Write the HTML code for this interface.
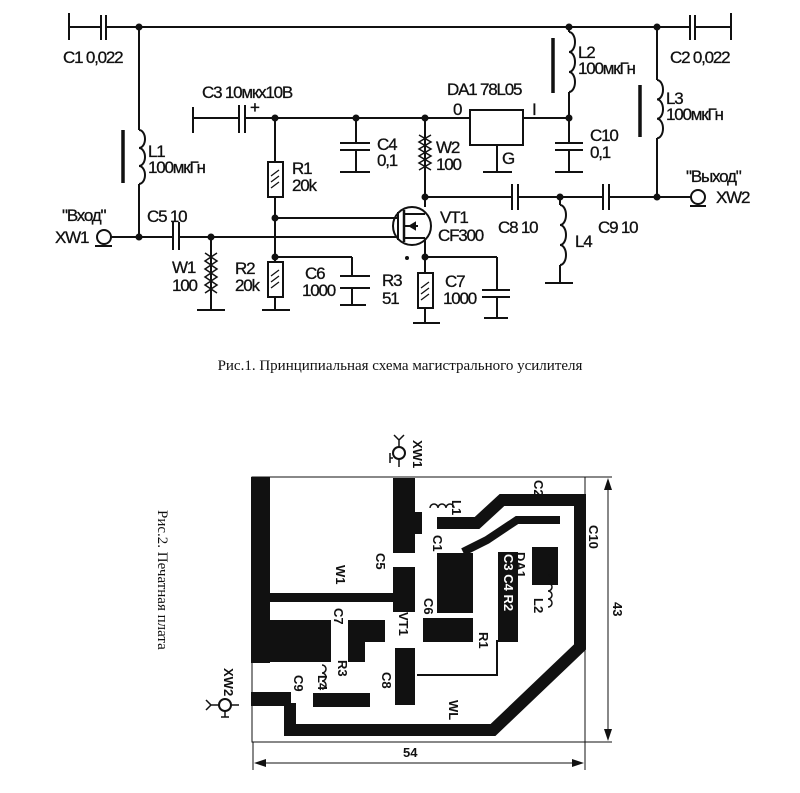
<!DOCTYPE html>
<html><head><meta charset="utf-8"><style>
html,body{margin:0;padding:0;background:#fff}
svg{display:block}
.t{font-family:"Liberation Sans","DejaVu Sans",sans-serif;font-size:17px;fill:#111;letter-spacing:-1.2px;stroke:#111;stroke-width:0.3px}
.s{font-family:"Liberation Sans",sans-serif;font-size:13px;fill:#111;font-weight:bold}
.cap{font-family:"Liberation Serif","DejaVu Serif",serif;font-size:15px;fill:#111}
</style></head><body>
<svg width="800" height="793" viewBox="0 0 800 793" xmlns="http://www.w3.org/2000/svg">
<g stroke="#111" stroke-width="2" fill="none">
<line x1="69" y1="13" x2="69" y2="40"/><line x1="69" y1="27" x2="101" y2="27"/>
<line x1="101" y1="15" x2="101" y2="40"/><line x1="106" y1="15" x2="106" y2="40"/>
<line x1="106" y1="27" x2="690" y2="27"/>
<line x1="690" y1="15" x2="690" y2="40"/><line x1="695" y1="15" x2="695" y2="40"/>
<line x1="695" y1="27" x2="731" y2="27"/><line x1="731" y1="13" x2="731" y2="40"/>
<line x1="139" y1="27" x2="139" y2="130"/>
<path d="M139 130 a6 9 0 0 1 0 18 a6 9 0 0 1 0 18 a6 9 0 0 1 0 18"/>
<line x1="139" y1="184" x2="139" y2="237"/>
<line x1="123" y1="130" x2="123" y2="183" stroke-width="3.5"/>
<circle cx="104" cy="237" r="7"/><line x1="95" y1="246" x2="112" y2="246"/>
<line x1="111" y1="237" x2="173" y2="237"/>
<line x1="173" y1="222" x2="173" y2="250"/><line x1="179" y1="222" x2="179" y2="250"/>
<line x1="179" y1="237" x2="398" y2="237"/>
<line x1="211" y1="237" x2="211" y2="310"/>
<path d="M205 253 l12 8 l-12 8 l12 8 l-12 8 l12 8 M217 253 l-12 8 l12 8 l-12 8 l12 8 l-12 8" stroke-width="1.5"/>
<line x1="197" y1="310" x2="225" y2="310"/>
<line x1="193" y1="107" x2="193" y2="133"/><line x1="193" y1="118" x2="239" y2="118"/>
<line x1="239" y1="105" x2="239" y2="133"/><line x1="245" y1="105" x2="245" y2="133"/>
<line x1="245" y1="118" x2="470" y2="118"/>
<line x1="275" y1="118" x2="275" y2="162"/>
<rect x="268" y="162" width="15" height="35"/>
<line x1="275" y1="197" x2="275" y2="262"/>
<rect x="268" y="262" width="15" height="35"/>
<line x1="275" y1="297" x2="275" y2="310"/><line x1="262" y1="310" x2="290" y2="310"/>
<path d="M271 176 l8 -6 M271 182 l8 -6 M271 188 l8 -6 M271 276 l8 -6 M271 282 l8 -6 M271 288 l8 -6" stroke-width="1.3"/>
<line x1="275" y1="218" x2="398" y2="218"/>
<line x1="275" y1="257" x2="352" y2="257"/><line x1="352" y1="257" x2="352" y2="276"/>
<line x1="340" y1="276" x2="370" y2="276"/><line x1="340" y1="288" x2="370" y2="288"/>
<line x1="352" y1="288" x2="352" y2="305"/><line x1="340" y1="305" x2="366" y2="305"/>
<line x1="356" y1="118" x2="356" y2="143"/>
<line x1="340" y1="143" x2="370" y2="143"/><line x1="340" y1="150" x2="370" y2="150"/>
<line x1="356" y1="150" x2="356" y2="172"/><line x1="340" y1="172" x2="370" y2="172"/>
<line x1="425" y1="118" x2="425" y2="207"/>
<path d="M419 135 l12 7 l-12 7 l12 7 l-12 7 l12 7 M431 135 l-12 7 l12 7 l-12 7 l12 7 l-12 7" stroke-width="1.5"/>
<circle cx="412" cy="226" r="19"/>
<line x1="398" y1="212" x2="398" y2="240"/>
<line x1="404" y1="210" x2="404" y2="242" stroke-width="2.5"/>
<line x1="404" y1="214" x2="425" y2="214"/><line x1="404" y1="238" x2="425" y2="238"/>
<line x1="404" y1="226" x2="418" y2="226"/>
<line x1="425" y1="238" x2="425" y2="273"/>
<path d="M410 226 l5 -3 v6 z" fill="#111"/>
<rect x="418" y="273" width="15" height="35"/>
<path d="M421 288 l8 -6 M421 294 l8 -6 M421 300 l8 -6" stroke-width="1.3"/>
<line x1="425" y1="308" x2="425" y2="323"/><line x1="413" y1="323" x2="440" y2="323"/>
<line x1="425" y1="257" x2="497" y2="257"/><line x1="497" y1="257" x2="497" y2="290"/>
<line x1="482" y1="290" x2="510" y2="290"/><line x1="482" y1="297" x2="510" y2="297"/>
<line x1="497" y1="297" x2="497" y2="318"/><line x1="484" y1="318" x2="508" y2="318"/>
<rect x="470" y="110" width="53" height="35"/>
<line x1="523" y1="118" x2="569" y2="118"/>
<line x1="497" y1="145" x2="497" y2="172"/><line x1="483" y1="172" x2="512" y2="172"/>
<line x1="569" y1="27" x2="569" y2="32"/>
<path d="M569 32 a6 10 0 0 1 0 20 a6 10 0 0 1 0 20 a6 10 0 0 1 0 20"/>
<line x1="569" y1="92" x2="569" y2="143"/>
<line x1="553" y1="38" x2="553" y2="93" stroke-width="3.5"/>
<line x1="555" y1="143" x2="583" y2="143"/><line x1="555" y1="150" x2="583" y2="150"/>
<line x1="569" y1="150" x2="569" y2="172"/><line x1="555" y1="172" x2="583" y2="172"/>
<line x1="657" y1="27" x2="657" y2="80"/>
<path d="M657 80 a6 9.7 0 0 1 0 19.4 a6 9.7 0 0 1 0 19.4 a6 9.7 0 0 1 0 19.4"/>
<line x1="657" y1="138" x2="657" y2="197"/>
<line x1="640" y1="85" x2="640" y2="137" stroke-width="3.5"/>
<line x1="425" y1="197" x2="512" y2="197"/>
<line x1="512" y1="184" x2="512" y2="210"/><line x1="518" y1="184" x2="518" y2="210"/>
<line x1="518" y1="197" x2="603" y2="197"/>
<line x1="603" y1="184" x2="603" y2="210"/><line x1="609" y1="184" x2="609" y2="210"/>
<line x1="609" y1="197" x2="691" y2="197"/>
<circle cx="698" cy="197" r="7"/><line x1="690" y1="206" x2="706" y2="206"/>
<line x1="560" y1="197" x2="560" y2="205"/>
<path d="M560 205 a6 10 0 0 1 0 20 a6 10 0 0 1 0 20 a6 10 0 0 1 0 20"/>
<line x1="560" y1="265" x2="560" y2="283"/><line x1="545" y1="283" x2="573" y2="283"/>
</g>
<g fill="#111">
<circle cx="139" cy="27" r="3.5"/><circle cx="569" cy="27" r="3.5"/><circle cx="657" cy="27" r="3.5"/>
<circle cx="139" cy="237" r="3.5"/><circle cx="211" cy="237" r="3.5"/>
<circle cx="275" cy="118" r="3.5"/><circle cx="356" cy="118" r="3.5"/><circle cx="425" cy="118" r="3.5"/><circle cx="569" cy="118" r="3.5"/>
<circle cx="275" cy="218" r="3.5"/><circle cx="275" cy="257" r="3.5"/>
<circle cx="425" cy="197" r="3.5"/><circle cx="425" cy="257" r="3.5"/>
<circle cx="560" cy="197" r="3.5"/><circle cx="657" cy="197" r="3.5"/>
<circle cx="407" cy="258" r="2"/>
</g>
<g class="t">
<text x="63" y="63">C1 0,022</text>
<text x="670" y="63">C2 0,022</text>
<text x="148" y="157">L1</text><text x="148" y="173">100мкГн</text>
<text x="62" y="221">"Вход"</text><text x="55" y="243">XW1</text>
<text x="147" y="222">C5 10</text>
<text x="202" y="98">C3 10мкх10В</text><text x="250" y="113">+</text>
<text x="292" y="174">R1</text><text x="292" y="191">20k</text>
<text x="377" y="150">C4</text><text x="377" y="166">0,1</text>
<text x="172" y="273">W1</text><text x="172" y="291">100</text>
<text x="235" y="274">R2</text><text x="235" y="291">20k</text>
<text x="305" y="279">C6</text><text x="302" y="296">1000</text>
<text x="382" y="286">R3</text><text x="382" y="304">51</text>
<text x="436" y="153">W2</text><text x="436" y="170">100</text>
<text x="440" y="223">VT1</text><text x="438" y="241">CF300</text>
<text x="445" y="287">C7</text><text x="443" y="304">1000</text>
<text x="447" y="95">DA1 78L05</text>
<text x="453" y="115">0</text><text x="532" y="115">I</text><text x="502" y="164">G</text>
<text x="578" y="58">L2</text><text x="578" y="74">100мкГн</text>
<text x="590" y="141">C10</text><text x="590" y="158">0,1</text>
<text x="666" y="104">L3</text><text x="666" y="120">100мкГн</text>
<text x="686" y="182">"Выход"</text><text x="716" y="203">XW2</text>
<text x="498" y="233">C8 10</text><text x="598" y="233">C9 10</text>
<text x="575" y="247">L4</text>
</g>
<text class="cap" x="400" y="370" text-anchor="middle">Рис.1. Принципиальная схема магистрального усилителя</text>
<text class="cap" x="0" y="0" transform="translate(158,510) rotate(90)">Рис.2. Печатная плата</text>

<g stroke="#111" stroke-width="1" fill="none">
<rect x="252" y="477" width="333" height="265"/>
<line x1="585" y1="477" x2="612" y2="477"/><line x1="585" y1="742" x2="612" y2="742"/>
<line x1="608" y1="482" x2="608" y2="737"/>
<line x1="253" y1="742" x2="253" y2="770"/><line x1="585" y1="742" x2="585" y2="770"/>
<line x1="258" y1="763" x2="580" y2="763"/>
</g>
<g fill="#111">
<path d="M608 478 l-4 12 h8z M608 741 l-4 -12 h8z M254 763 l12 -4 v8z M584 763 l-12 -4 v8z"/>
<rect x="251" y="477" width="19" height="186"/>
<rect x="270" y="593" width="124" height="9"/>
<rect x="393" y="478" width="22" height="75"/><rect x="393" y="567" width="22" height="45"/>
<rect x="415" y="512" width="7" height="22"/>
<rect x="251" y="620" width="80" height="42"/>
<path d="M348 620 h37 v22 h-20 v20 h-17z"/>
<rect x="395" y="648" width="20" height="57"/>
<rect x="437" y="553" width="36" height="60"/>
<rect x="423" y="618" width="50" height="24"/>
<rect x="498" y="552" width="20" height="90"/>
<rect x="532" y="547" width="26" height="38"/>
<rect x="313" y="693" width="57" height="14"/>
<rect x="251" y="692" width="40" height="14"/>
</g>
<g stroke="#111" fill="none">
<polyline points="437,523 477,523 502,500 580,500 580,647 493,730 290,730 290,703" stroke-width="12"/>
<polyline points="463,552 487,540 517,520 560,520" stroke-width="8"/>
<polyline points="417,675 497,675 497,640" stroke-width="2"/>
<path d="M430 508 a4 4 0 0 1 8 0 a4 4 0 0 1 8 0 a4 4 0 0 1 8 0" stroke-width="1.5"/>
<path d="M548 575 a4 4 0 0 1 0 8 a4 4 0 0 1 0 8 a4 4 0 0 1 0 8 a4 4 0 0 1 0 8" stroke-width="1.5"/>
<path d="M322 665 a4 4 0 0 1 0 8 a4 4 0 0 1 0 8 a4 4 0 0 1 0 8" stroke-width="1.5"/>
<circle cx="399" cy="453" r="6" stroke-width="2"/><line x1="390" y1="453" x2="390" y2="463" stroke-width="1.5"/><line x1="390" y1="458" x2="393" y2="458" stroke-width="1.5"/>
<path d="M399 447 v-7 l-5 -5 M399 440 l5 -5 M399 459 v8" stroke-width="1.5"/>
<circle cx="225" cy="705" r="6" stroke-width="2"/><path d="M219 705 h-8 l-5 -5 M211 705 l-5 5 M231 705 h8 M225 711 v6 M221 717 h8" stroke-width="1.5"/>
</g>
<g class="s">
<text transform="translate(452,500) rotate(90)">L1</text>
<text transform="translate(534,480) rotate(90)">C2</text>
<text transform="translate(589,525) rotate(90)">C10</text>
<text transform="translate(516,552) rotate(90)">DA1</text>
<text transform="translate(433,535) rotate(90)">C1</text>
<text transform="translate(376,553) rotate(90)">C5</text>
<text transform="translate(336,565) rotate(90)">W1</text>
<text transform="translate(334,608) rotate(90)">C7</text>
<text transform="translate(399,612) rotate(90)">VT1</text>
<text transform="translate(424,598) rotate(90)">C6</text>
<text transform="translate(504,554) rotate(90)" fill="#fff">C3 C4 R2</text>
<text transform="translate(479,632) rotate(90)">R1</text>
<text transform="translate(534,598) rotate(90)">L2</text>
<text transform="translate(338,660) rotate(90)">R3</text>
<text transform="translate(318,675) rotate(90)">L4</text>
<text transform="translate(294,675) rotate(90)">C9</text>
<text transform="translate(382,672) rotate(90)">C8</text>
<text transform="translate(449,700) rotate(90)">WL</text>
<text transform="translate(413,440) rotate(90)">XW1</text>
<text transform="translate(224,668) rotate(90)">XW2</text>
<text transform="translate(613,602) rotate(90)">43</text>
<text x="403" y="757">54</text>
</g>
</svg>
</body></html>
